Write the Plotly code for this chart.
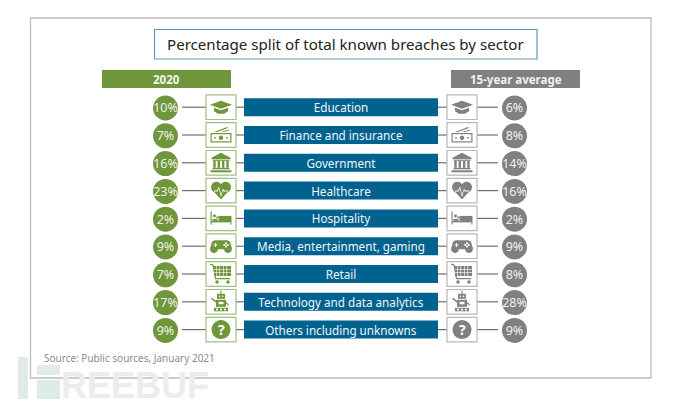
import math
import plotly.graph_objects as go

categories = ['Education', 'Finance and insurance', 'Government', 'Healthcare', 'Hospitality',
              'Media, entertainment, gaming', 'Retail', 'Technology and data analytics',
              'Others including unknowns']
values_2020 = [10, 7, 16, 23, 2, 9, 7, 17, 9]
values_avg = [6, 8, 14, 16, 2, 9, 8, 28, 9]
icons = ['cap', 'money', 'bank', 'heart', 'bed', 'pad', 'cart', 'robot', 'help']

title = 'Percentage split of total known breaches by sector'
source = 'Source: Public sources, January 2021'

GREEN = '#6f963b'
GRAY = '#808080'
BLUE = '#00628f'
FONT = 'Noto Sans'

row_y = [107.2 + i * 27.8 for i in range(len(categories))]


def rect(x0, y0, x1, y1):
    return [(x0, y0), (x1, y0), (x1, y1), (x0, y1)]


def circle(cx, cy, r):
    return [(cx + r * math.cos(a * math.pi / 10), cy + r * math.sin(a * math.pi / 10)) for a in range(20)]


# icon parts are (filled with icon colour?, polygon), in pixels around the box centre
def icon_parts(name):
    if name == 'cap':
        return [(1, [(-11, -2.5), (0, -6.5), (11, -2.5), (0, 1.5)]),
                (1, [(-7, 0.5), (0, 3), (7, 0.5), (7, 4), (3, 6.5), (-3, 6.5), (-7, 4)])]
    if name == 'money':
        return [(1, rect(-10.5, -2, 10.5, 7.5)), (0, rect(-9.3, -0.8, 9.3, 6.3)), (1, circle(0, 2.8, 2.2)),
                (1, circle(-6, 2.8, 0.9)), (1, circle(6, 2.8, 0.9)),
                (1, [(-7, -3), (6, -8), (7, -7), (-4, -3)]), (1, [(0, -3), (8, -5.5), (8, -4.5), (3, -3)])]
    if name == 'bank':
        parts = [(1, [(-9.5, -5), (0, -10), (9.5, -5), (9.5, -3.5), (-9.5, -3.5)]), (1, rect(-10.5, 7.5, 10.5, 9.5)),
                 (1, rect(-8.5, 5, 8.5, 6.5)), (1, rect(-8.5, -3, 8.5, -2))]
        for cx in (-6.5, -2.2, 2.2, 6.5):
            parts.append((1, rect(cx - 1.2, -2, cx + 1.2, 5)))
        return parts
    if name == 'heart':
        pulse = [(-7, 0), (-4, 0), (-2, -4), (0, 4), (2, -2), (3, 0), (7, 0), (7, 1), (2.6, 1),
                 (2, 0), (0, 6.5), (-2.2, -2), (-3.4, 1), (-7, 1)]
        return [(1, circle(-4.6, -3.5, 5.4)), (1, circle(4.6, -3.5, 5.4)),
                (1, [(-9.6, -1.5), (0, 9), (9.6, -1.5), (0, -4)]), (0, pulse)]
    if name == 'bed':
        return [(1, rect(-10.5, -7, -9.3, 6)), (1, rect(-9.3, 2.5, 10.5, 4)), (1, rect(9.3, 4, 10.5, 6)),
                (1, rect(-2.5, -2.5, 10.5, 3)), (1, circle(-6.5, -2.5, 1.5)), (1, circle(-3.8, -1, 1)),
                (1, rect(-8.5, 0.5, -3.5, 2.5))]
    if name == 'pad':
        return [(1, circle(-7, 3, 3.8)), (1, circle(7, 3, 3.8)),
                (1, [(-6.5, -6), (6.5, -6), (9, -4.5), (10.8, 2), (7, 4), (4, 3), (-4, 3), (-7, 4), (-10.8, 2), (-9, -4.5)]),
                (0, rect(-7.5, -1.8, -3.5, -0.8)), (0, rect(-6, -3.3, -5, 0.7)),
                (0, circle(5, -3, 1)), (0, circle(5, 0.4, 1)), (0, circle(3.3, -1.3, 1)), (0, circle(6.7, -1.3, 1))]
    if name == 'cart':
        parts = [(1, [(-11, -10.5), (-7.5, -9.5), (-5, 4), (9, 4), (9, 5.2), (-6, 5.2), (-8.5, -8.5), (-11, -9.3)]),
                 (1, rect(-7, -8, 10, 2)), (1, circle(-4, 8, 1.7)), (1, circle(7, 8, 1.7))]
        for i in range(4):
            parts.append((0, rect(-5 + i * 3.5, -8, -4.4 + i * 3.5, 2)))
        for y in (-5, -1.7):
            parts.append((0, rect(-7, y, 10, y + 0.6)))
        return parts
    if name == 'robot':
        return [(1, rect(-0.6, -11, 0.6, -8)), (1, rect(-4, -8, 4, -3)), (0, circle(-1.6, -5.5, 0.8)),
                (0, circle(1.6, -5.5, 0.8)), (1, rect(-5, -2, 5, 5)), (0, rect(-2.5, 0, 2.5, 2.5)),
                (1, [(-5, -1), (-9, -4), (-10, -3), (-5, 1)]), (1, [(5, 0), (8, 3), (8, 4), (5, 2)]),
                (1, rect(-7, 6, 7, 9.5)), (0, circle(-4, 7.8, 1)), (0, circle(0, 7.8, 1)), (0, circle(4, 7.8, 1))]
    return [(1, circle(0, 0, 9.5))]


def poly_path(points, cx, cy):
    return 'M' + 'L'.join(f'{cx + px:.1f},{cy + py:.1f}' for px, py in points) + 'Z'


fig = go.Figure()
shapes = []
annotations = []

# watermark logo
for x0, y0, x1, y1 in [(18, 357, 28, 399), (37, 365, 60, 375), (37, 380, 60, 399)]:
    shapes.append(dict(type='rect', x0=x0, x1=x1, y0=y0, y1=y1, fillcolor='#dfece6', line_width=0))

# outer frame and title box
shapes.append(dict(type='rect', x0=30.5, x1=651, y0=18, y1=378, line=dict(color='#bdbdbd', width=1.3)))
shapes.append(dict(type='rect', x0=154.5, x1=537, y0=29.5, y1=59, line=dict(color='#5d9bbb', width=1.2)))

# header bands
shapes.append(dict(type='rect', x0=102, x1=231, y0=70, y1=88, fillcolor=GREEN, line_width=0))
shapes.append(dict(type='rect', x0=451, x1=580, y0=70, y1=88, fillcolor=GRAY, line_width=0))

for y, name in zip(row_y, icons):
    for x0, x1 in [(182, 206), (236, 244), (438, 447), (477, 498)]:
        shapes.append(dict(type='line', x0=x0, x1=x1, y0=y, y1=y, line=dict(color='#707070', width=1.2)))
    for x0, colour, edge in [(206, GREEN, '#a3bf88'), (447, GRAY, '#b8b8b8')]:
        shapes.append(dict(type='rect', x0=x0, x1=x0 + 30, y0=y - 12.3, y1=y + 12.3,
                           fillcolor='white', line=dict(color=edge, width=1.2)))
        for solid, points in icon_parts(name):
            shapes.append(dict(type='path', path=poly_path(points, x0 + 15, y),
                               fillcolor=colour if solid else 'white', line_width=0))
        if name == 'help':
            annotations.append(dict(x=x0 + 15, y=y, text='<b>?</b>', showarrow=False,
                                    font=dict(family=FONT, size=14, color='white')))

fig.add_trace(go.Bar(y=row_y, x=[194] * len(row_y), base=244, width=18, orientation='h',
                     marker=dict(color=BLUE, line_width=0), text=categories, textposition='inside',
                     insidetextanchor='middle', textangle=0, constraintext='none',
                     insidetextfont=dict(family=FONT, size=11.7, color='#f2f6f8')))

circle_y = [v + 0.8 for v in row_y]
label_y = [v + 2 for v in row_y]
fig.add_trace(go.Scatter(x=[165.5] * len(row_y), y=circle_y, mode='markers', marker=dict(size=25, color=GREEN)))
fig.add_trace(go.Scatter(x=[514.5] * len(row_y), y=circle_y, mode='markers', marker=dict(size=25, color=GRAY)))
fig.add_trace(go.Scatter(x=[165.5] * len(row_y), y=label_y, mode='text', text=[f'{v}%' for v in values_2020],
                         textposition='middle center',
                         textfont=dict(family=FONT, size=12.5, color='#f0f0e8')))
fig.add_trace(go.Scatter(x=[514.5] * len(row_y), y=label_y, mode='text', text=[f'{v}%' for v in values_avg],
                         textposition='middle center',
                         textfont=dict(family=FONT, size=12.5, color='#f0f0f0')))

annotations += [
    dict(x=345.5, y=44, text=title, showarrow=False, font=dict(family=FONT, size=15.1, color='#222222')),
    dict(x=166.5, y=79.5, text='<b>2020</b>', showarrow=False, font=dict(family=FONT, size=11.5, color='#f5f5f0')),
    dict(x=515.5, y=79.5, text='<b>15-year average</b>', showarrow=False, font=dict(family=FONT, size=11.5, color='#f0f0f0')),
    dict(x=42, y=358, text=source, showarrow=False, xanchor='left', font=dict(family=FONT, size=10, color='#8c8c8c')),
    dict(x=59, y=385, text='<b>REEBUF</b>', showarrow=False, xanchor='left',
         font=dict(family='Liberation Sans', size=36, color='#ececec')),
]

fig.update_layout(width=690, height=406, margin=dict(l=0, r=0, t=0, b=0), showlegend=False,
                  plot_bgcolor='white', paper_bgcolor='white', shapes=shapes, annotations=annotations,
                  xaxis=dict(range=[0, 690], visible=False), yaxis=dict(range=[406, 0], visible=False))
fig.write_html('out.html', config=dict(displayModeBar=False), post_script="document.body.style.margin='0';")
